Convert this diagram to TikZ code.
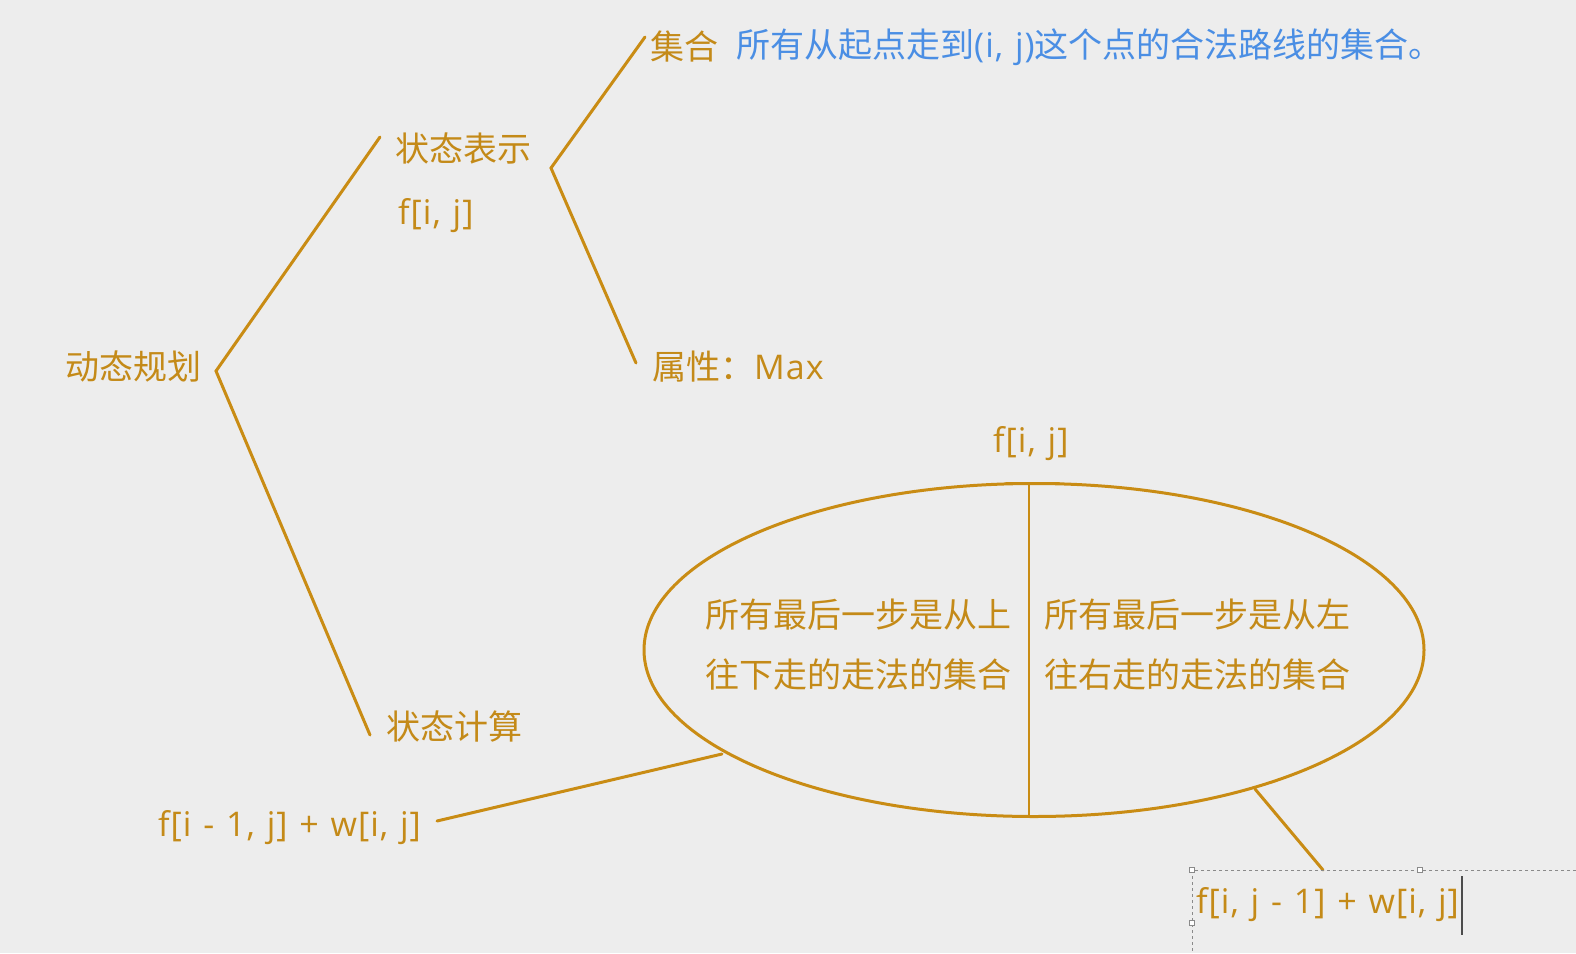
\documentclass[tikz,border=0pt]{standalone}
\usepackage{fontspec}
\setmainfont{Noto Sans CJK SC}
\newfontfamily\latin[LetterSpace=3,WordSpace=1.2]{Open Sans}
\usetikzlibrary{shapes.geometric}
\definecolor{gold}{HTML}{C48A18}
\definecolor{goldline}{HTML}{C98C14}
\definecolor{bluet}{HTML}{4A8EE4}
\definecolor{bg}{HTML}{EDEDED}
\definecolor{ui}{HTML}{8A8A8A}
\begin{document}
\begin{tikzpicture}[x=1pt,y=-1pt,
  lbl/.style={inner sep=0pt,anchor=west,text=gold,font=\fontsize{34}{60}\selectfont},
  conn/.style={draw=goldline,line width=3pt,line cap=round},
  handle/.style={draw=ui,fill=white,line width=0.8pt,minimum size=5pt,inner sep=0pt}]
\fill[bg] (0,0) rectangle (1576,953);
\useasboundingbox (0,0) rectangle (1576,953);

% texts
\node[lbl] (dp) at (65,366) {动态规划};
\node[lbl] (rep) at (395,148) {状态表示};
\node[lbl] (fij1) at (398,216) {\latin f[i, j]};
\node[lbl] (set) at (650,47) {集合};
\node[lbl,text=bluet] (setdesc) at (736,47) {所有从起点走到{\latin(i, j)}这个点的合法路线的集合。};
\node[lbl] (attr) at (652,367) {属性：{\latin Max}};
\node[lbl] (calc) at (386,727) {状态计算};
\node[lbl] (fij2) at (993,444) {\latin f[i, j]};
\node[lbl] (left) at (158,828) {\latin f[i - 1, j] + w[i, j]};
\node[lbl] (right) at (1196,905) {\latin f[i, j - 1] + w[i, j]};

% ellipse
\node[draw=goldline,line width=3pt,ellipse,minimum width=780pt,minimum height=333pt,inner sep=0pt] (ell) at (1034,650) {};
\node[lbl,align=left] (up) at (705,645) {所有最后一步是从上\\往下走的走法的集合};
\node[lbl,align=left] (lf) at (1044,645) {所有最后一步是从左\\往右走的走法的集合};

% connectors
\coordinate (dpv) at (216,371);
\coordinate (repA) at (380,137);
\coordinate (calcA) at (370,735);
\coordinate (repv) at (551,168);
\coordinate (setA) at (645,37);
\coordinate (attrA) at (636,363);
\coordinate (ellT) at (1029,484);
\coordinate (ellB) at (1029,816);
\coordinate (ellL) at (722,754);
\coordinate (leftA) at (437,821);
\coordinate (ellR) at (1255,789);
\coordinate (rightA) at (1323,870);

\draw[conn] (repA) -- (dpv) -- (calcA);
\draw[conn] (setA) -- (repv) -- (attrA);
\draw[conn,line width=2.5pt] (ellT) -- (ellB);
\draw[conn] (1006,483) -- (1059,483);
\draw[conn] (leftA) -- (ellL);
\draw[conn] (ellR) -- (rightA);

% text box selection (editing)
\coordinate (boxTL) at (1192,870);
\draw[ui,dashed,line width=0.8pt] (1576,870) -- (boxTL) -- (1192,953);
\node[handle] (h1) at (boxTL) {};
\node[handle] (h2) at (1420,870) {};
\node[handle] (h3) at (1192,923) {};
\draw[black!70,line width=1.2pt] (1462,876) -- (1462,935);
\end{tikzpicture}
\end{document}
